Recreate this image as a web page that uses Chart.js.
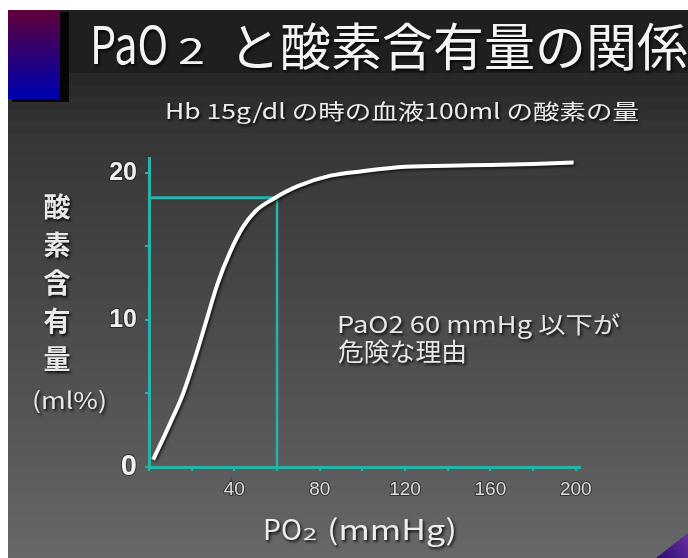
<!DOCTYPE html>
<html>
<head>
<meta charset="utf-8">
<script src="https://cdn.jsdelivr.net/npm/chart.js@4.4.1/dist/chart.umd.min.js"></script>
<style>
  html, body { margin: 0; padding: 0; background: #fff; overflow: hidden; }
  #wrap { position: relative; width: 688px; height: 558px; }
</style>
</head>
<body>
<div id="wrap"><canvas id="c" width="688" height="558"></canvas></div>
<script>
// Oxygen content of 100 ml blood (Hb 15 g/dl) against PO2
const po2 = [2, 10, 16, 22, 27, 32, 38, 44, 50, 58, 70, 85, 100, 120, 150, 180, 199];
const o2Content = [0.5, 3.0, 5.0, 7.6, 10.0, 12.4, 14.6, 16.3, 17.4, 18.2, 19.1, 19.8, 20.1, 20.4, 20.5, 20.6, 20.7];

// PaO2 60 mmHg marker
const markerPo2 = 60;
const markerContent = 18.3;

// labelled ticks
const xTickLabels = [40, 80, 120, 160, 200];
const yTickLabels = [0, 10, 20];

const CYAN = '#26b3ac';
const JP = "'Noto Sans CJK JP', 'Noto Sans', sans-serif";
const SANS = "'Liberation Sans', Arial, sans-serif";

function fitText(ctx, text, x, y, width, font) {
  ctx.font = font;
  const w = ctx.measureText(text).width;
  const sx = width ? width / w : 1;
  ctx.save();
  ctx.translate(x, y);
  ctx.scale(sx, 1);
  ctx.textAlign = 'left';
  ctx.fillText(text, 0, 0);
  ctx.restore();
}

function grey(y) {
  const stops = [[73, 38], [140, 55], [300, 72], [440, 88], [558, 104]];
  for (let i = 0; i < stops.length - 1; i++) {
    const [y0, g0] = stops[i], [y1, g1] = stops[i + 1];
    if (y <= y1) {
      const g = Math.round(g0 + (g1 - g0) * (y - y0) / (y1 - y0));
      return `rgb(${g},${g},${g})`;
    }
  }
  return 'rgb(104,104,104)';
}

const slideBackground = {
  id: 'slideBackground',
  beforeDraw(chart) {
    const { ctx, width, height } = chart;
    ctx.save();
    ctx.fillStyle = '#ffffff';
    ctx.fillRect(0, 0, width, height);
    // banded grey backdrop
    const band = 12;
    for (let y = 73; y < height; y += band) {
      ctx.fillStyle = grey(y + band / 2);
      ctx.fillRect(8, y, width - 8, band + 1);
    }
    // title strip
    ctx.fillStyle = '#1f1f1f';
    ctx.fillRect(8, 10, width - 8, 63);
    // purple corner block with shadow
    ctx.fillStyle = '#050505';
    ctx.fillRect(60, 12, 9, 90);
    ctx.fillRect(12, 98, 57, 4);
    const steps = 11;
    for (let i = 0; i < steps; i++) {
      const t = i / (steps - 1);
      const r = Math.round(92 * (1 - t));
      const b = Math.round(62 + (170 - 62) * t);
      ctx.fillStyle = `rgb(${r},0,${b})`;
      ctx.fillRect(8, 10 + i * 8, 52, 9);
    }
    // purple corner triangle
    const g = ctx.createLinearGradient(656, 558, 688, 534);
    g.addColorStop(0, '#2a0c6e');
    g.addColorStop(1, '#6a2ea0');
    ctx.fillStyle = g;
    ctx.beginPath();
    ctx.moveTo(656, 558);
    ctx.lineTo(688, 533);
    ctx.lineTo(688, 558);
    ctx.closePath();
    ctx.fill();
    ctx.restore();
  }
};

const curveShadow = {
  id: 'curveShadow',
  beforeDatasetDraw(chart, args) {
    if (args.index === 0) {
      const ctx = chart.ctx;
      ctx.save();
      ctx.shadowColor = 'rgba(0,0,0,0.7)';
      ctx.shadowBlur = 3;
      ctx.shadowOffsetX = 1.5;
      ctx.shadowOffsetY = 1.5;
    }
  },
  afterDatasetDraw(chart, args) {
    if (args.index === 0) chart.ctx.restore();
  }
};

const slideText = {
  id: 'slideText',
  afterDraw(chart) {
    const ctx = chart.ctx;
    ctx.save();
    ctx.textBaseline = 'alphabetic';
    ctx.shadowColor = 'rgba(0,0,0,0.85)';
    ctx.shadowBlur = 3;
    ctx.shadowOffsetX = 1.5;
    ctx.shadowOffsetY = 1.5;

    // title
    ctx.fillStyle = '#f4f4f4';
    fitText(ctx, 'PaO', 90, 64, 78, `52px ${JP}`);
    fitText(ctx, '2', 178, 64, 27, `36px ${JP}`);
    fitText(ctx, 'と酸素含有量の関係', 229, 66, 459, `51px ${JP}`);

    // subtitle
    ctx.fillStyle = '#ececec';
    fitText(ctx, 'Hb 15g/dl の時の血液100ml の酸素の量', 165, 119, 474, `21px ${JP}`);

    // note inside the plot
    ctx.fillStyle = '#e6e6e6';
    fitText(ctx, 'PaO2 60 mmHg 以下が', 337, 333, 283, `23px ${JP}`);
    fitText(ctx, '危険な理由', 338, 361, 129, `25px ${JP}`);

    // y-axis title, stacked
    ctx.fillStyle = '#e8e8e8';
    ctx.textAlign = 'center';
    ctx.textBaseline = 'middle';
    ctx.font = `bold 27px ${JP}`;
    const chars = ['酸', '素', '含', '有', '量'];
    chars.forEach((ch, i) => ctx.fillText(ch, 57, 207 + i * 38));
    ctx.textBaseline = 'alphabetic';
    fitText(ctx, '(ml%)', 32, 409, 75, `23px ${JP}`);

    // x-axis title
    ctx.fillStyle = '#ececec';
    fitText(ctx, 'PO', 263, 540, 39, `28px ${JP}`);
    fitText(ctx, '2', 303, 540, 14, `17px ${JP}`);
    fitText(ctx, '(mmHg)', 327, 540, 130, `28px ${JP}`);

    ctx.restore();
  }
};

const curveData = po2.map((x, i) => ({ x, y: o2Content[i] }));

new Chart(document.getElementById('c'), {
  type: 'line',
  data: {
    datasets: [
      {
        data: curveData,
        borderColor: '#ffffff',
        borderWidth: 4,
        pointRadius: 0,
        cubicInterpolationMode: 'monotone',
        order: 0
      },
      {
        data: [{ x: 0, y: markerContent }, { x: markerPo2, y: markerContent }],
        borderColor: CYAN,
        borderWidth: 3,
        pointRadius: 0,
        order: 1
      },
      {
        data: [{ x: markerPo2, y: 0 }, { x: markerPo2, y: markerContent }],
        borderColor: CYAN,
        borderWidth: 2.5,
        pointRadius: 0,
        order: 2
      }
    ]
  },
  options: {
    responsive: false,
    animation: false,
    devicePixelRatio: 1,
    layout: { padding: { top: 158, right: 108, left: 0, bottom: 0 } },
    plugins: { legend: { display: false }, tooltip: { enabled: false } },
    scales: {
      x: {
        type: 'linear',
        min: 0,
        max: 202,
        afterFit(s) { s.height = 91; },
        ticks: {
          stepSize: 20,
          includeBounds: false,
          autoSkip: false,
          maxRotation: 0,
          padding: 7,
          callback: v => xTickLabels.includes(v) ? String(v) : '',
          color: '#dcdcdc',
          font: { family: SANS, size: 19 },
          textStrokeColor: 'rgba(25,25,25,0.6)',
          textStrokeWidth: 2
        },
        grid: { drawOnChartArea: false, drawTicks: true, tickLength: 4, tickColor: CYAN, lineWidth: 2 },
        border: { display: true, color: CYAN, width: 3 }
      },
      y: {
        type: 'linear',
        min: 0,
        max: 21,
        afterFit(s) { s.width = 149; },
        ticks: {
          stepSize: 5,
          includeBounds: false,
          autoSkip: false,
          padding: 8,
          callback: v => yTickLabels.includes(v) ? String(v) : '',
          color: '#f0f0f0',
          font: ctx => ({ family: SANS, weight: 'bold', size: ctx.tick && ctx.tick.value === 0 ? 29 : 25 }),
          textStrokeColor: 'rgba(20,20,20,0.6)',
          textStrokeWidth: 2
        },
        grid: { drawOnChartArea: false, drawTicks: true, tickLength: 4, tickColor: CYAN, lineWidth: 2 },
        border: { display: true, color: CYAN, width: 3 }
      }
    }
  },
  plugins: [slideBackground, curveShadow, slideText]
});
</script>
</body>
</html>
